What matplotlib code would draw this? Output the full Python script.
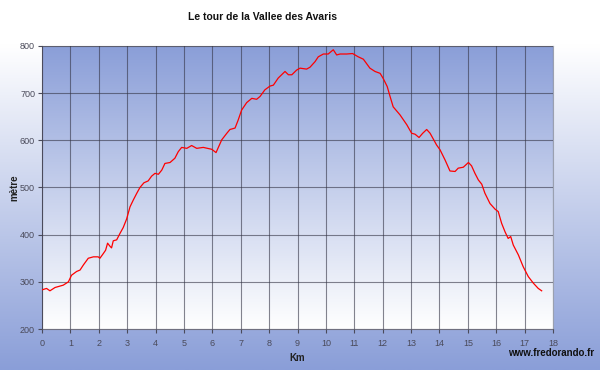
import matplotlib
matplotlib.use('Agg')

import numpy as np
import matplotlib.pyplot as plt
from matplotlib.colors import LinearSegmentedColormap

# profile
km = [0, 0.16, 0.28, 0.46, 0.75, 0.93, 1.04, 1.22, 1.34, 1.46, 1.63, 1.81, 1.98, 2.04,
      2.16, 2.24, 2.31, 2.40, 2.45, 2.51, 2.63, 2.75, 2.86, 2.98, 3.10, 3.22, 3.34, 3.45,
      3.59, 3.74, 3.86, 3.98, 4.10, 4.22, 4.33, 4.51, 4.68, 4.80, 4.92, 5.10, 5.27, 5.45,
      5.68, 5.98, 6.13, 6.33, 6.51, 6.62, 6.80, 6.91, 7.03, 7.21, 7.39, 7.56, 7.68, 7.85,
      8.03, 8.15, 8.32, 8.56, 8.68, 8.80, 8.97, 9.09, 9.32, 9.44, 9.62, 9.73, 9.91, 10.08,
      10.26, 10.38, 10.50, 10.73, 10.94, 11.14, 11.32, 11.55, 11.73, 11.91, 12.02, 12.16,
      12.26, 12.37, 12.61, 12.85, 13.02, 13.14, 13.28, 13.41, 13.55, 13.67, 13.90, 14.02,
      14.20, 14.37, 14.55, 14.66, 14.84, 15.02, 15.13, 15.25, 15.37, 15.49, 15.60, 15.78,
      15.96, 16.07, 16.19, 16.31, 16.42, 16.51, 16.60, 16.78, 16.95, 17.13, 17.31, 17.48,
      17.60]
alt = [283, 286, 281, 288, 293, 300, 314, 322, 325, 336, 350, 353, 353, 350,
       360, 367, 382, 375, 372, 387, 389, 403, 415, 433, 459, 474, 488, 500,
       510, 514, 524, 530, 528, 537, 551, 553, 562, 576, 585, 583, 589, 583,
       585, 581, 574, 601, 615, 623, 626, 643, 664, 680, 689, 687, 693, 707,
       715, 717, 732, 746, 739, 739, 749, 753, 751, 755, 767, 777, 783, 783,
       792, 781, 783, 783, 784, 777, 772, 753, 746, 742, 731, 714,
       693, 671, 654, 633, 615, 613, 606, 615, 623, 615, 590, 580,
       558, 535, 534, 541, 543, 553, 546, 530, 516, 507, 488, 466,
       454, 449, 424, 406, 392, 396, 378, 357, 332, 311, 297, 286,
       281]

xticks = list(range(0, 19))
yticks = list(range(200, 801, 100))

blue = '#8a9ed8'
txt = '#4a4a5a'
plt.rcParams['font.family'] = ['Liberation Sans', 'DejaVu Sans']

fig = plt.figure(figsize=(6, 3.7), dpi=100)

# figure background: white at top -> blue at bottom
bg = fig.add_axes([0, 0, 1, 1], zorder=-10)
grad = np.linspace(0, 1, 256).reshape(-1, 1)
cm_fig = LinearSegmentedColormap.from_list('figbg', [(0, '#ffffff'), (0.12, '#ffffff'), (1, blue)])
bg.imshow(grad, aspect='auto', cmap=cm_fig, extent=[0, 1, 0, 1], origin='upper')
bg.set_axis_off()

ax = fig.add_axes([0.07, 0.1108, 0.8517, 0.7649])
cm_ax = LinearSegmentedColormap.from_list('axbg', [blue, '#ffffff'])
ax.imshow(grad, aspect='auto', cmap=cm_ax, extent=[0, 18, 200, 800], origin='upper', zorder=0)

ax.plot(km, alt, color='#ff0000', lw=0.9, zorder=3)

ax.set_xlim(0, 18)
ax.set_ylim(200, 800)
ax.set_xticks(xticks)
ax.set_yticks(yticks)
ax.grid(True, color='#333344', alpha=0.6, lw=0.8, zorder=1)
ax.set_axisbelow(False)
for s in ax.spines.values():
    s.set_color('#9aa0b0')
    s.set_linewidth(0.8)
ax.spines['left'].set_color('#707080')
ax.spines['bottom'].set_color('#707080')
ax.tick_params(labelsize=6.5, colors=txt, length=3, width=0.8, pad=2)
ax.tick_params(axis='x', pad=4)

ax.set_xlabel('Km', fontsize=7, fontweight='bold', color='#222222', labelpad=4)
ax.set_ylabel('mètre', fontsize=7, fontweight='bold', color='#222222')
ax.yaxis.set_label_coords(-0.045, 0.5)
fig.text(0.437, 0.955, 'Le tour de la Vallee des Avaris', ha='center', va='center',
         fontsize=7.5, fontweight='bold', color='#111111')
fig.text(0.99, 0.046, 'www.fredorando.fr', ha='right', va='center',
         fontsize=7, fontweight='bold', color='#111111')

fig.savefig('out.png', dpi=100)
